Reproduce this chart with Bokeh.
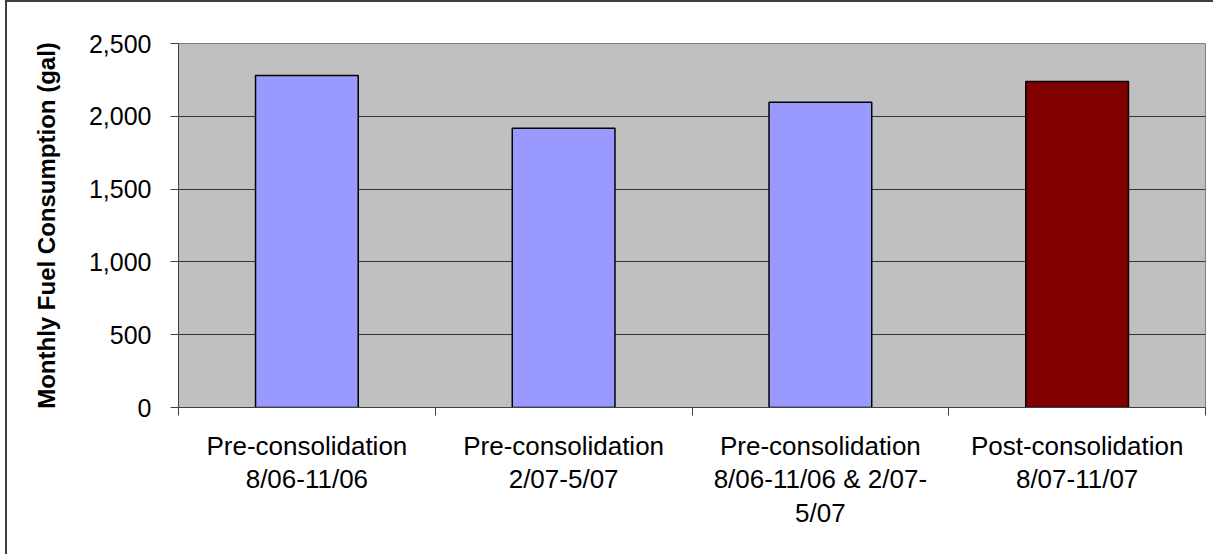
from bokeh.plotting import figure
from bokeh.models import ColumnDataSource, FixedTicker, NumeralTickFormatter, Range1d
from bokeh.embed import file_html
from bokeh.resources import INLINE

# Monthly fuel consumption per period (gallons)
periods = [
    "Pre-consolidation\n8/06-11/06",
    "Pre-consolidation\n2/07-5/07",
    "Pre-consolidation\n8/06-11/06 & 2/07-\n5/07",
    "Post-consolidation\n8/07-11/07",
]
consumption = [2280, 1918, 2097, 2239]
bar_colors = ["#9999FF", "#9999FF", "#9999FF", "#800000"]
y_ticks = [0, 500, 1000, 1500, 2000, 2500]

FONT = "Liberation Sans"

centers = [i + 0.5 for i in range(len(periods))]
source = ColumnDataSource(dict(x=centers, top=consumption, color=bar_colors))

p = figure(
    width=1208, height=554,
    x_range=Range1d(0, len(periods)), y_range=Range1d(0, 2500),
    output_backend="svg", toolbar_location=None,
    min_border_left=171, min_border_right=10,
    min_border_top=41, min_border_bottom=149,
)
p.styles = {
    "margin-left": "5px",
    "border-left": "2px solid #404040",
    "border-top": "2px solid #404040",
}

p.background_fill_color = "#C0C0C0"
p.border_fill_color = "white"
p.outline_line_color = "#808080"
p.outline_line_width = 1

p.vbar(x="x", top="top", width=0.4, bottom=0, source=source,
       fill_color="color", line_color="black", line_width=1.5)

# y axis
p.yaxis.ticker = FixedTicker(ticks=y_ticks)
p.yaxis.formatter = NumeralTickFormatter(format="0,0")
p.yaxis.minor_tick_line_color = None
p.yaxis.major_tick_in = 0
p.yaxis.major_tick_out = 8
p.yaxis.axis_line_color = "#404040"
p.yaxis.major_tick_line_color = "#404040"
p.yaxis.major_label_text_font = FONT
p.yaxis.major_label_text_font_size = "25px"
p.yaxis.major_label_text_color = "black"
p.yaxis.major_label_standoff = 19
p.yaxis.axis_label = "Monthly Fuel Consumption (gal)"
p.yaxis.axis_label_text_font = FONT
p.yaxis.axis_label_text_font_style = "bold"
p.yaxis.axis_label_text_font_size = "24px"
p.yaxis.axis_label_text_color = "black"
p.yaxis.axis_label_standoff = 26

# x axis: labels at bar centers, tick marks at category boundaries
p.xaxis.ticker = FixedTicker(ticks=centers, minor_ticks=list(range(len(periods) + 1)))
p.xaxis.major_label_overrides = {c: lab for c, lab in zip(centers, periods)}
p.xaxis.major_tick_in = 0
p.xaxis.major_tick_out = 0
p.xaxis.minor_tick_in = 0
p.xaxis.minor_tick_out = 8
p.xaxis.minor_tick_line_color = "#404040"
p.xaxis.axis_line_color = "#404040"
p.xaxis.major_label_text_font = FONT
p.xaxis.major_label_text_font_size = "26px"
p.xaxis.major_label_text_color = "black"
p.xaxis.major_label_text_line_height = 1.12
p.xaxis.major_label_standoff = 15

p.xgrid.grid_line_color = None
p.ygrid.ticker = FixedTicker(ticks=y_ticks)
p.ygrid.grid_line_color = "#333333"
p.ygrid.grid_line_width = 1

open("out.html", "w").write(file_html(p, INLINE))
